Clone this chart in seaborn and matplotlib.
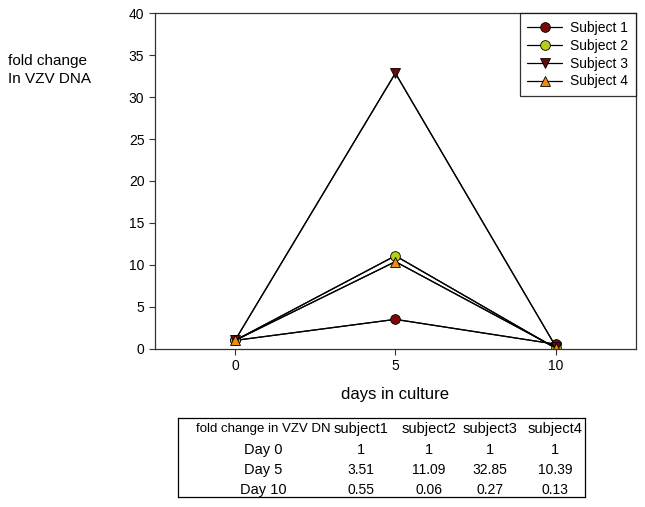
import pandas as pd
import matplotlib.pyplot as plt
import seaborn as sns

days = [0, 5, 10]
subjects = ['Subject 1', 'Subject 2', 'Subject 3', 'Subject 4']
subject1 = [1, 3.51, 0.55]
subject2 = [1, 11.09, 0.06]
subject3 = [1, 32.85, 0.27]
subject4 = [1, 10.39, 0.13]
table_cols = ['subject1', 'subject2', 'subject3', 'subject4']
table_rows = ['Day 0', 'Day 5', 'Day 10']

colors = ['#7a0a0a', '#b8cc1a', '#6a0808', '#f08a10']
markers = ['o', 'o', 'v', '^']

df = pd.DataFrame({
    'day': days * 4,
    'fold': subject1 + subject2 + subject3 + subject4,
    'subject': [s for s in subjects for _ in days],
})

sns.set_style('ticks')
plt.rcParams['font.family'] = ['Liberation Sans', 'DejaVu Sans']
plt.rcParams['text.color'] = 'black'
plt.rcParams['axes.labelcolor'] = 'black'
plt.rcParams['xtick.color'] = 'black'
plt.rcParams['ytick.color'] = 'black'

fig = plt.figure(figsize=(6.45, 5.07), dpi=100)
ax = fig.add_axes([0.240, 0.312, 0.746, 0.662])

# lines via seaborn, markers coloured per subject
sns.lineplot(data=df, x='day', y='fold', hue='subject',
             palette=['black'] * 4, linewidth=0.9, legend=False, ax=ax)
for i, s in enumerate(subjects):
    sub = df[df['subject'] == s]
    ax.plot(sub['day'], sub['fold'], color='black', lw=0.9,
            marker=markers[i], markersize=7, markerfacecolor=colors[i],
            markeredgecolor='black', markeredgewidth=0.6, label=s)

ax.set_xlim(-2.5, 12.5)
ax.set_ylim(0, 40)
ax.set_xticks([0, 5, 10])
ax.set_yticks(range(0, 41, 5))
ax.tick_params(labelsize=10, length=4, width=0.8, color='#333333')
for sp in ax.spines.values():
    sp.set_linewidth(0.9)
    sp.set_color('#333333')
ax.set_xlabel('days in culture', fontsize=12, labelpad=10)
ax.set_ylabel('')
fig.text(0.012, 0.862, 'fold change\nIn VZV DNA', fontsize=11, va='center',
         ha='left', linespacing=1.3)

leg = ax.legend(loc='upper right', fontsize=10, frameon=True, fancybox=False,
                borderaxespad=0, handlelength=2.5, labelspacing=0.28,
                borderpad=0.55, handletextpad=0.6)
leg.get_frame().set_edgecolor('black')
leg.get_frame().set_linewidth(0.9)

# Summary table below the chart
tab = [subject1, subject2, subject3, subject4]
tax = fig.add_axes([178 / 645, 1 - 497 / 507, (585 - 178) / 645, (497 - 418) / 507])
tax.set_xlim(0, 1)
tax.set_ylim(0, 1)
tax.set_xticks([])
tax.set_yticks([])
for sp in tax.spines.values():
    sp.set_linewidth(0.9)
    sp.set_color('black')
col_x = [0.209, 0.450, 0.617, 0.767, 0.926]
row_y = [0.86, 0.59, 0.34, 0.09]
tax.text(col_x[0], row_y[0], 'fold change in VZV DN', fontsize=9.5,
         ha='center', va='center')
for j, c in enumerate(table_cols):
    tax.text(col_x[j + 1], row_y[0], c, fontsize=10.5, ha='center', va='center')
for i, r in enumerate(table_rows):
    tax.text(col_x[0], row_y[i + 1], r, fontsize=10.5, ha='center', va='center')
    for j in range(4):
        v = tab[j][i]
        txt = '1' if v == 1 else f'{v:.2f}'
        tax.text(col_x[j + 1], row_y[i + 1], txt, fontsize=10 if v != 1 else 10.5,
                 ha='center', va='center')

fig.savefig('out.png', dpi=100)
